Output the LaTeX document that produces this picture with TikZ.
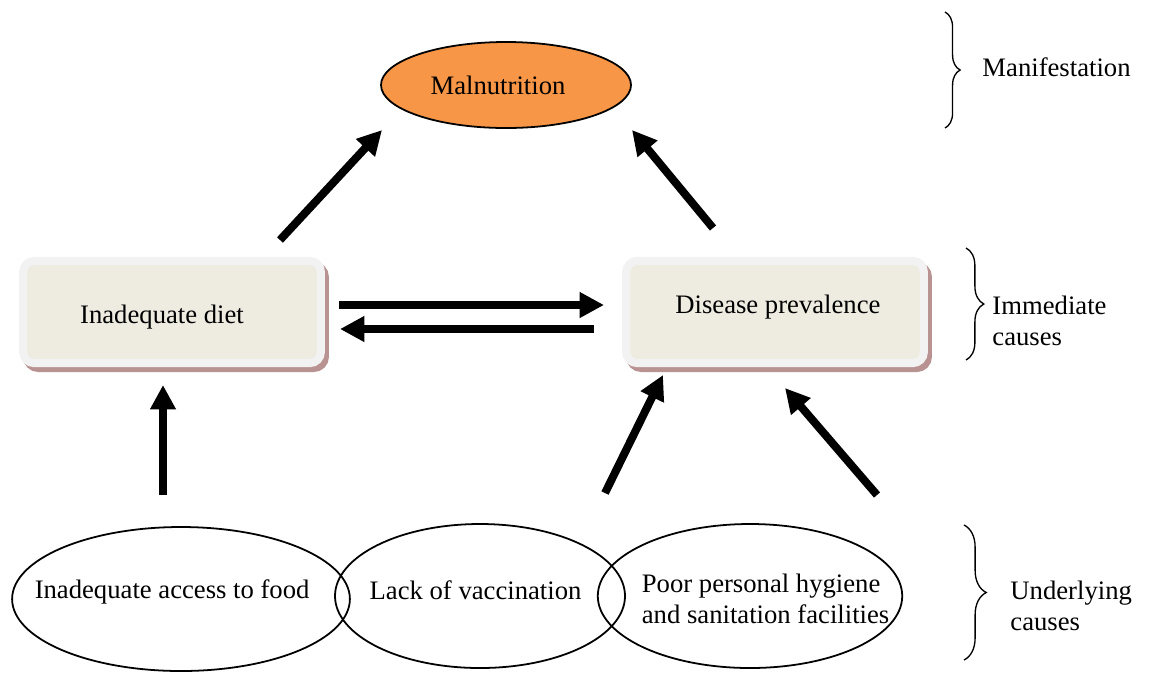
\documentclass[tikz,border=0pt]{standalone}
\usepackage{fontspec}
\setmainfont{Liberation Serif}
\usetikzlibrary{arrows.meta,shapes.geometric,shadows,decorations.pathreplacing}
\definecolor{malorange}{HTML}{F79646}
\definecolor{boxfill}{HTML}{EEECE1}
\definecolor{boxrim}{HTML}{F2F2F2}
\definecolor{boxshadow}{HTML}{B99392}
\begin{document}
\begin{tikzpicture}[x=0.45pt, y=-0.45pt,
    every node/.style ={font=\fontsize{12}{14}\selectfont},
    outcome/.style ={ellipse, draw, line width=0.8pt, fill=malorange, inner sep=0pt,
      minimum width=112.5pt, minimum height=38.7pt},
    cause/.style ={ellipse, draw, line width=0.8pt, inner sep=0pt, minimum height=64.8pt},
    immediate/.style ={rectangle, rounded corners=5pt, draw=boxrim, line width=3.6pt,
      fill=boxfill, minimum width=134pt, minimum height=46pt,
      drop shadow={shadow xshift=1.8pt, shadow yshift=-2.2pt, fill=boxshadow,
        draw=boxshadow, line width=3.6pt, opacity=1}},
    bigarrow/.style ={line width=3.6pt, -{Triangle[length=11pt, width=11pt]}},
    level/.style ={decorate, decoration={brace, amplitude=7pt}, line width=0.6pt},
    tag/.style ={anchor=west, align=left, inner sep=0pt}]
   \useasboundingbox (0,0) rectangle (1149,673);
   % the three levels
   \node[outcome] (mal) [label={[xshift=-3.6pt]center:Malnutrition}] at (506,85) {};
   \node[immediate] (diet) [label={[xshift=-4.5pt, yshift=-2.2pt]center:Inadequate diet}] at (172,312) {};
   \node[immediate] (dis) [label={[xshift=1.3pt, yshift=2.2pt]center:Disease prevalence}] at (775,312) {};
   \node[cause, minimum width=152pt] (food) [label={[xshift=-4pt, yshift=3.4pt]center:Inadequate access to food}] at (181,599) {};
   \node[cause, minimum width=130.5pt] (vacc) [label={[xshift=-2pt, yshift=2.6pt]center:Lack of vaccination}] at (480,596) {};
   \node[cause, minimum width=137pt] (hyg) [label={[align=left, xshift=7pt, yshift=-1.2pt]center:Poor personal hygiene\\and sanitation facilities}] at (750,596) {};
   % arrow ends
   \coordinate (dietup) at (280,240);
   \coordinate (malsw) at (382,130);
   \coordinate (disup) at (713,228);
   \coordinate (malse) at (632,130);
   \coordinate (dietr) at (339,305);
   \coordinate (disl) at (604,305);
   \coordinate (disl2) at (594,329);
   \coordinate (dietr2) at (340,329);
   \coordinate (foodup) at (163,495);
   \coordinate (dietdn) at (163,385);
   \coordinate (vaccup) at (605,493);
   \coordinate (disdn) at (663,375);
   \coordinate (hygup) at (877,495);
   \coordinate (disdn2) at (785,388);
   \draw[bigarrow] (dietup) to (malsw);
   \draw[bigarrow] (disup) to (malse);
   \draw[bigarrow] (dietr) to (disl);
   \draw[bigarrow] (disl2) to (dietr2);
   \draw[bigarrow] (foodup) to (dietdn);
   \draw[bigarrow] (vaccup) to (disdn);
   \draw[bigarrow] (hygup) to (disdn2);
   % braces and level names
   \draw[level, decoration={amplitude=6.8pt}] (945,12) -- (945,128);
   \draw[level, decoration={amplitude=8pt}] (966,248) -- (966,360);
   \draw[level, decoration={amplitude=10pt}] (964,525) -- (964,660);
   \node[tag] (manif) at (982,67) {Manifestation};
   \node[tag] (immed) at (992,321) {Immediate\\causes};
   \node[tag] (under) at (1010,606) {Underlying\\causes};
\end{tikzpicture}
\end{document}
